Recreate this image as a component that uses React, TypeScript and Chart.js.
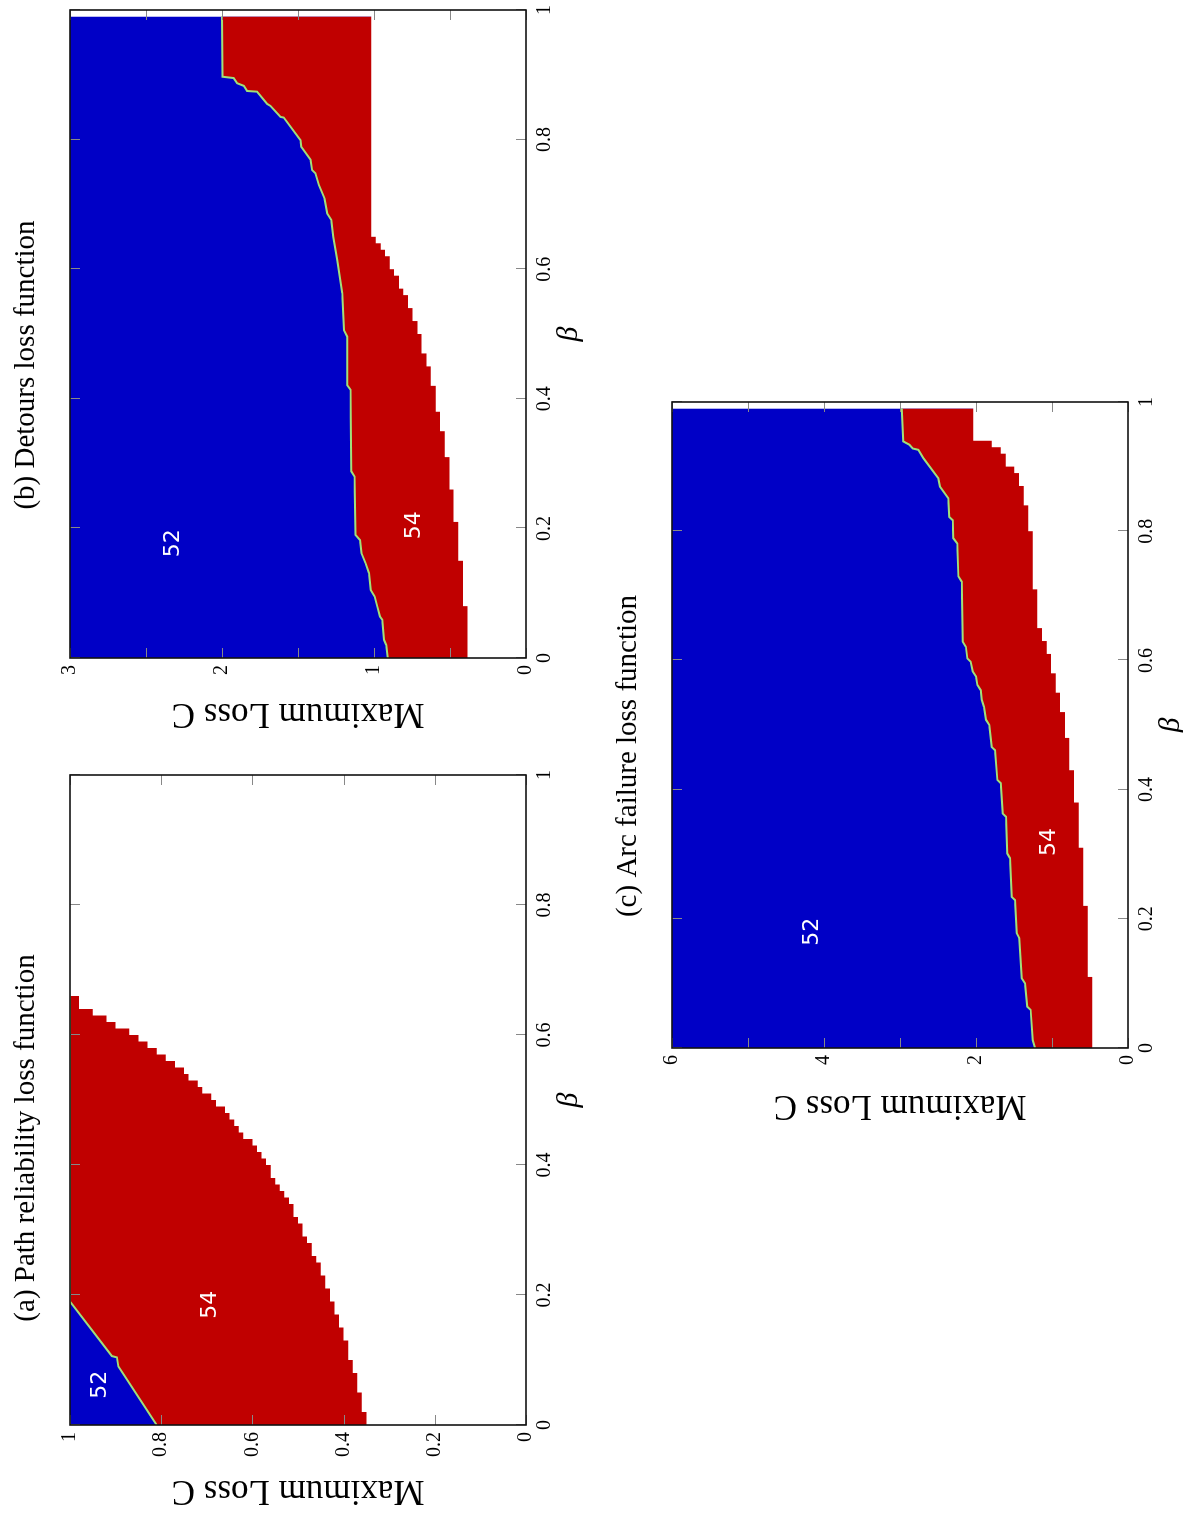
import React, { useEffect, useRef } from 'react';
import { Chart, registerables } from 'chart.js';

Chart.register(...registerables);

// ---------- shared ----------
const SERIF = '"Liberation Serif", "Times New Roman", serif';
const SANS = '"DejaVu Sans", Verdana, sans-serif';
const BLUE = '#0000c6';
const RED = '#c00000';
const EDGE = '#9fe07a';
const betaTickStep = 0.2;
const betaTitle = 'β';
const cTitle = 'Maximum Loss C';

// ---------- panel (a) ----------
const aTitle = '(a) Path reliability loss function';
const aCMax = 1;
const aCTickStep = 0.2;
const aCLabelStep = 0.2;
// lower edge of the coloured area (white below); last point closes the no-data region
const aLowerBeta = [0, 0.02, 0.05, 0.08, 0.10, 0.13, 0.15, 0.17, 0.19, 0.21, 0.23, 0.25, 0.26, 0.28, 0.29, 0.31, 0.32, 0.34, 0.35, 0.36, 0.37, 0.38, 0.40, 0.41, 0.42, 0.43, 0.44, 0.45, 0.46, 0.47, 0.48, 0.49, 0.50, 0.51, 0.52, 0.53, 0.54, 0.55, 0.56, 0.57, 0.58, 0.59, 0.60, 0.61, 0.62, 0.63, 0.64, 0.65, 1.0];
const aLowerC = [0.34, 0.35, 0.36, 0.37, 0.38, 0.39, 0.40, 0.41, 0.42, 0.43, 0.44, 0.45, 0.46, 0.47, 0.48, 0.49, 0.50, 0.51, 0.52, 0.53, 0.54, 0.55, 0.56, 0.57, 0.58, 0.59, 0.60, 0.62, 0.63, 0.64, 0.65, 0.66, 0.68, 0.69, 0.71, 0.72, 0.74, 0.75, 0.77, 0.79, 0.81, 0.83, 0.85, 0.87, 0.90, 0.92, 0.95, 0.98, 0.98];
const aBoundBeta = [0, 0.09, 0.104, 0.106, 0.19, 0.66];
const aBoundC = [0.81, 0.894, 0.897, 0.908, 1.0, 1.0];
const aBlueBeta = [0, 0.19];
const aBlueC = [1, 1];
const aLabelText = ['52', '54'];
const aLabelBeta = [0.062, 0.185];
const aLabelC = [0.934, 0.692];

// ---------- panel (b) ----------
const bTitle = '(b) Detours loss function';
const bCMax = 3;
const bCTickStep = 0.5;
const bCLabelStep = 1;
const bLowerBeta = [0, 0.08, 0.15, 0.21, 0.26, 0.31, 0.35, 0.38, 0.42, 0.45, 0.47, 0.50, 0.52, 0.54, 0.56, 0.57, 0.59, 0.60, 0.62, 0.63, 0.64, 0.65, 0.66, 1.0];
const bLowerC = [0.356, 0.385, 0.415, 0.446, 0.477, 0.503, 0.534, 0.565, 0.593, 0.626, 0.655, 0.688, 0.714, 0.747, 0.776, 0.807, 0.835, 0.868, 0.897, 0.927, 0.956, 0.989, 1.018, 1.018];
const bBoundBeta = [0, 0.02, 0.028, 0.059, 0.064, 0.079, 0.095, 0.105, 0.131, 0.146, 0.162, 0.182, 0.19, 0.28, 0.288, 0.414, 0.421, 0.496, 0.506, 0.563, 0.614, 0.65, 0.676, 0.686, 0.709, 0.73, 0.748, 0.753, 0.769, 0.789, 0.799, 0.834, 0.835, 0.852, 0.855, 0.874, 0.875, 0.883, 0.887, 0.895, 0.897, 0.99];
const bBoundC = [0.91, 0.92, 0.934, 0.945, 0.961, 0.978, 0.996, 1.022, 1.033, 1.055, 1.083, 1.092, 1.121, 1.128, 1.149, 1.154, 1.176, 1.176, 1.198, 1.209, 1.242, 1.268, 1.281, 1.308, 1.325, 1.363, 1.385, 1.407, 1.418, 1.479, 1.484, 1.594, 1.615, 1.681, 1.703, 1.769, 1.835, 1.857, 1.901, 1.923, 1.996, 2.0];
const bBlueBeta = [0, 0.99];
const bBlueC = [3, 3];
const bLabelText = ['52', '54'];
const bLabelBeta = [0.177, 0.205];
const bLabelC = [2.32, 0.738];

// ---------- panel (c) ----------
const cTitleText = '(c) Arc failure loss function';
const cCMax = 6;
const cCTickStep = 1;
const cCLabelStep = 2;
const cLowerBeta = [0, 0.11, 0.22, 0.31, 0.38, 0.43, 0.48, 0.52, 0.55, 0.58, 0.61, 0.63, 0.65, 0.71, 0.80, 0.84, 0.87, 0.89, 0.90, 0.92, 0.93, 0.94, 0.95, 1.0];
const cLowerC = [0.412, 0.470, 0.531, 0.588, 0.649, 0.711, 0.772, 0.829, 0.895, 0.951, 1.013, 1.070, 1.132, 1.193, 1.254, 1.312, 1.373, 1.434, 1.496, 1.610, 1.675, 1.794, 2.035, 2.035];
const cBoundBeta = [0, 0.012, 0.059, 0.064, 0.1, 0.108, 0.17, 0.178, 0.229, 0.234, 0.294, 0.301, 0.358, 0.363, 0.41, 0.415, 0.461, 0.466, 0.5, 0.508, 0.528, 0.539, 0.554, 0.562, 0.575, 0.583, 0.598, 0.603, 0.621, 0.629, 0.722, 0.73, 0.781, 0.789, 0.817, 0.822, 0.851, 0.869, 0.882, 0.913, 0.926, 0.928, 0.934, 0.939, 0.99];
const cBoundC = [1.224, 1.254, 1.281, 1.325, 1.355, 1.399, 1.43, 1.465, 1.487, 1.531, 1.553, 1.588, 1.605, 1.649, 1.675, 1.719, 1.75, 1.794, 1.825, 1.868, 1.895, 1.925, 1.938, 1.982, 2.0, 2.044, 2.07, 2.114, 2.133, 2.175, 2.189, 2.232, 2.246, 2.298, 2.307, 2.351, 2.364, 2.474, 2.496, 2.693, 2.759, 2.833, 2.877, 2.956, 2.978];
const cBlueBeta = [0, 0.99];
const cBlueC = [6, 6];
const cLabelText = ['52', '54'];
const cLabelBeta = [0.18, 0.319];
const cLabelC = [4.16, 1.03];

type Spec = {
  title: string;
  cMax: number; cTick: number; cLabel: number;
  lowerBeta: number[]; lowerC: number[];
  boundBeta: number[]; boundC: number[];
  blueBeta: number[]; blueC: number[];
  labelText: string[]; labelBeta: number[]; labelC: number[];
  padR: number; rightW: number; yTitlePad: number;
  left: number; top: number;
};

const PANELS: Spec[] = [
  { title: aTitle, cMax: aCMax, cTick: aCTickStep, cLabel: aCLabelStep, lowerBeta: aLowerBeta, lowerC: aLowerC, boundBeta: aBoundBeta, boundC: aBoundC, blueBeta: aBlueBeta, blueC: aBlueC, labelText: aLabelText, labelBeta: aLabelBeta, labelC: aLabelC, padR: 36, rightW: 19, yTitlePad: 9, left: 0, top: 0 },
  { title: bTitle, cMax: bCMax, cTick: bCTickStep, cLabel: bCLabelStep, lowerBeta: bLowerBeta, lowerC: bLowerC, boundBeta: bBoundBeta, boundC: bBoundC, blueBeta: bBlueBeta, blueC: bBlueC, labelText: bLabelText, labelBeta: bLabelBeta, labelC: bLabelC, padR: 24, rightW: 33, yTitlePad: 19, left: 767, top: 0 },
  { title: cTitleText, cMax: cCMax, cTick: cCTickStep, cLabel: cCLabelStep, lowerBeta: cLowerBeta, lowerC: cLowerC, boundBeta: cBoundBeta, boundC: cBoundC, blueBeta: cBlueBeta, blueC: cBlueC, labelText: cLabelText, labelBeta: cLabelBeta, labelC: cLabelC, padR: 26, rightW: 33, yTitlePad: 17, left: 377, top: 602 },
];

const W = 800;
const H = 600;

function fmt(v: number) {
  return String(Number(v.toFixed(3)));
}

function makePlugin(p: Spec) {
  return {
    id: 'frameTicks',
    afterDatasetsDraw(chart: any) {
      const { ctx, chartArea } = chart;
      const { left, right, top, bottom } = chartArea;
      const x = chart.scales.x;
      const y = chart.scales.y;
      ctx.save();
      // region labels
      ctx.fillStyle = '#ffffff';
      ctx.font = `22px ${SANS}`;
      ctx.textAlign = 'center';
      ctx.textBaseline = 'middle';
      p.labelText.forEach((t, i) => {
        ctx.fillText(t, x.getPixelForValue(p.labelBeta[i]), y.getPixelForValue(p.labelC[i]));
      });
      // inner ticks
      ctx.strokeStyle = '#888888';
      ctx.lineWidth = 1;
      const L = 10;
      ctx.beginPath();
      x.ticks.forEach((t: any) => {
        const px = Math.round(x.getPixelForValue(t.value)) + 0.5;
        ctx.moveTo(px, bottom); ctx.lineTo(px, bottom - L);
        ctx.moveTo(px, top); ctx.lineTo(px, top + L);
      });
      y.ticks.forEach((t: any) => {
        const py = Math.round(y.getPixelForValue(t.value)) + 0.5;
        ctx.moveTo(left, py); ctx.lineTo(left + L, py);
        ctx.moveTo(right, py); ctx.lineTo(right - L, py);
      });
      ctx.stroke();
      // frame
      ctx.strokeStyle = '#111111';
      ctx.lineWidth = 1.6;
      ctx.strokeRect(left, top, right - left, bottom - top);
      ctx.restore();
    },
  };
}

function buildConfig(p: Spec): any {
  const pts = (bs: number[], cs: number[]) => bs.map((b, i) => ({ x: b, y: cs[i] }));
  const lineH = 29 * 1.2;
  const titleCenter = 26;
  const padTop = titleCenter - lineH / 2;
  return {
    type: 'line',
    data: {
      datasets: [
        {
          label: 'below', data: pts(p.lowerBeta, p.lowerC), stepped: 'after', fill: 'origin',
          backgroundColor: '#ffffff', borderColor: 'rgba(0,0,0,0)', borderWidth: 0, pointRadius: 0, order: 0, yAxisID: 'y',
        },
        {
          label: '54', data: pts(p.boundBeta, p.boundC), fill: 'origin', tension: 0,
          backgroundColor: RED, borderColor: EDGE, borderWidth: 2, pointRadius: 0, order: 1, yAxisID: 'y',
        },
        {
          label: '52', data: pts(p.blueBeta, p.blueC), fill: 'origin',
          backgroundColor: BLUE, borderColor: 'rgba(0,0,0,0)', borderWidth: 0, pointRadius: 0, order: 2, yAxisID: 'y',
        },
      ],
    },
    options: {
      responsive: false,
      animation: false,
      devicePixelRatio: 1,
      events: [],
      layout: { padding: { left: 0, top: 0, bottom: 0, right: p.padR } },
      plugins: {
        legend: { display: false },
        tooltip: { enabled: false },
        title: {
          display: true, text: p.title, color: '#000',
          font: { family: SERIF, size: 29, weight: 'normal' },
          padding: { top: padTop, bottom: 70 - padTop - lineH },
        },
      },
      scales: {
        x: {
          type: 'linear', position: 'bottom', min: 0, max: 1,
          afterFit: (s: any) => { s.height = H - 526; },
          grid: { display: false, drawTicks: false },
          border: { display: false },
          ticks: { stepSize: betaTickStep, color: '#000', padding: 7, maxRotation: 0, autoSkip: false, font: { family: SERIF, size: 20 }, callback: (v: any) => fmt(Number(v)) },
          title: { display: true, text: betaTitle, color: '#000', font: { family: SERIF, size: 30, style: 'italic' }, padding: { top: 0, bottom: 13 } },
        },
        y: {
          type: 'linear', position: 'left', min: 0, max: p.cMax,
          afterFit: (s: any) => { s.width = 95; },
          grid: { display: false, drawTicks: false },
          border: { display: false },
          ticks: {
            stepSize: p.cTick, color: '#000', padding: 7, autoSkip: false, font: { family: SERIF, size: 20 },
            callback: (v: any) => {
              const n = Number(v) / p.cLabel;
              return Math.abs(n - Math.round(n)) < 1e-6 ? fmt(Number(v)) : '';
            },
          },
          title: { display: true, text: cTitle, color: '#000', font: { family: SERIF, size: 35 }, padding: { top: p.yTitlePad, bottom: 0 } },
        },
        y2: {
          type: 'linear', position: 'right', display: true, min: 0, max: 1,
          afterFit: (s: any) => { s.width = p.rightW; },
          grid: { display: false, drawTicks: false },
          border: { display: false },
          ticks: { display: false },
        },
      },
    },
    plugins: [makePlugin(p)],
  };
}

function Panel({ spec }: { spec: Spec }) {
  const ref = useRef<HTMLCanvasElement>(null);
  useEffect(() => {
    const chart = new Chart(ref.current as HTMLCanvasElement, buildConfig(spec));
    return () => chart.destroy();
  }, [spec]);
  return (
    <canvas
      ref={ref}
      width={W}
      height={H}
      style={{ position: 'absolute', left: spec.left, top: spec.top, width: W, height: H }}
    />
  );
}

export default function App() {
  return (
    <div style={{ position: 'fixed', left: 0, top: 0, width: 1183, height: 1520, overflow: 'hidden', background: '#ffffff' }}>
      <div
        style={{
          position: 'absolute', left: 0, top: 0, width: 1520, height: 1183,
          transformOrigin: '0 0', transform: 'translateY(1520px) rotate(-90deg)',
        }}
      >
        {PANELS.map((p, i) => (
          <Panel key={i} spec={p} />
        ))}
      </div>
    </div>
  );
}
